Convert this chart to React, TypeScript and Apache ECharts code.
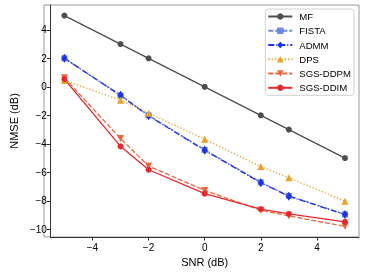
import React, { useEffect, useRef } from "react";
import * as echarts from "echarts";

const snr = [-5, -3, -2, 0, 2, 3, 5];
const mf = [5, 3, 2, 0, -2, -3, -5];
const fista = [2.0, -0.6, -2.0, -4.42, -6.7, -7.65, -8.95];
const admm = [2.0, -0.6, -2.04, -4.46, -6.73, -7.68, -8.96];
const dps = [0.45, -0.94, -1.85, -3.68, -5.6, -6.38, -8.03];
const sgsDdpm = [0.63, -3.63, -5.56, -7.27, -8.66, -9.06, -9.79];
const sgsDdim = [0.54, -4.18, -5.82, -7.5, -8.59, -8.92, -9.48];
const xTicks = [-4, -2, 0, 2, 4];
const yTicks = [-10, -8, -6, -4, -2, 0, 2, 4];

const font = "Liberation Sans, Arial, Helvetica, sans-serif";
const fmt = (v: number) => (v < 0 ? "\u2212" + Math.abs(v) : String(v));
const pts = (ys: number[]) => snr.map((x, i) => [x, ys[i]]);

export default function App() {
  const ref = useRef<HTMLDivElement>(null);
  useEffect(() => {
    const chart = echarts.init(ref.current!, null, { renderer: "svg" });
    const mk = (
      name: string,
      ys: number[],
      color: string,
      symbol: string,
      size: any,
      type: any,
      rotate = 0
    ) => ({
      name,
      type: "line",
      data: pts(ys),
      symbol,
      symbolSize: size,
      symbolRotate: rotate,
      itemStyle: { color },
      lineStyle: { color, width: 1.3, type },
      emphasis: { disabled: true },
    });
    chart.setOption({
      animation: false,
      textStyle: { fontFamily: font },
      grid: { left: 44, right: 6, top: 5, bottom: 36 },
      legend: {
        right: 11,
        top: 9,
        orient: "vertical",
        itemWidth: 24,
        itemHeight: 8,
        itemGap: 2.26,
        padding: [1.5, 3, 1.5, 2],
        borderColor: "#d0d0d0",
        borderWidth: 1,
        borderRadius: 3,
        backgroundColor: "#fff",
        textStyle: {
          fontSize: 9.6,
          color: "#000",
          fontFamily: font,
          lineHeight: 12,
          padding: [0, 0, 0, 2],
        },
        data: ["MF", "FISTA", "ADMM", "DPS", "SGS-DDPM", "SGS-DDIM"],
      },
      xAxis: {
        type: "value",
        min: -5.5,
        max: 5.5,
        name: "SNR (dB)",
        nameLocation: "middle",
        nameGap: 17,
        nameTextStyle: { fontSize: 11, color: "#000", fontFamily: font },
        axisLine: { show: true, onZero: false, lineStyle: { color: "#333", width: 1 } },
        axisTick: { show: true, length: 3.5, customValues: xTicks, lineStyle: { color: "#333" } },
        axisLabel: { customValues: xTicks, formatter: fmt, fontSize: 10, color: "#000", margin: 5 },
        splitLine: { show: false },
      },
      yAxis: {
        type: "value",
        min: -10.54,
        max: 5.74,
        name: "NMSE (dB)",
        nameLocation: "middle",
        nameGap: 28,
        nameTextStyle: { fontSize: 11, color: "#000", fontFamily: font },
        axisLine: { show: true, onZero: false, lineStyle: { color: "#333", width: 1 } },
        axisTick: { show: true, length: 3.5, customValues: yTicks, lineStyle: { color: "#333" } },
        axisLabel: { customValues: yTicks, formatter: fmt, fontSize: 10, color: "#000", margin: 3.5 },
        splitLine: { show: false },
      },
      graphic: [
        {
          type: "rect",
          shape: { x: 44, y: 5, width: 315, height: 232 },
          style: { fill: "none", stroke: "#999", lineWidth: 1 },
          silent: true,
          z: -1,
        },
      ],
      series: [
        mk("MF", mf, "#4d4d4d", "circle", 6, "solid"),
        mk("FISTA", fista, "#6b86e3", "rect", 6, [5, 2]),
        mk("ADMM", admm, "#1f32e6", "diamond", [6, 9], [6, 2, 1, 2]),
        mk("DPS", dps, "#eaa126", "triangle", 7, [1.3, 2]),
        mk("SGS-DDPM", sgsDdpm, "#eb673e", "triangle", 7, [5, 2], 180),
        mk("SGS-DDIM", sgsDdim, "#e8272c", "circle", 6, "solid"),
      ],
    });
    return () => chart.dispose();
  }, []);
  return (
    <div
      ref={ref}
      style={{ position: "fixed", left: 0, top: 0, width: 365, height: 273 }}
    />
  );
}
